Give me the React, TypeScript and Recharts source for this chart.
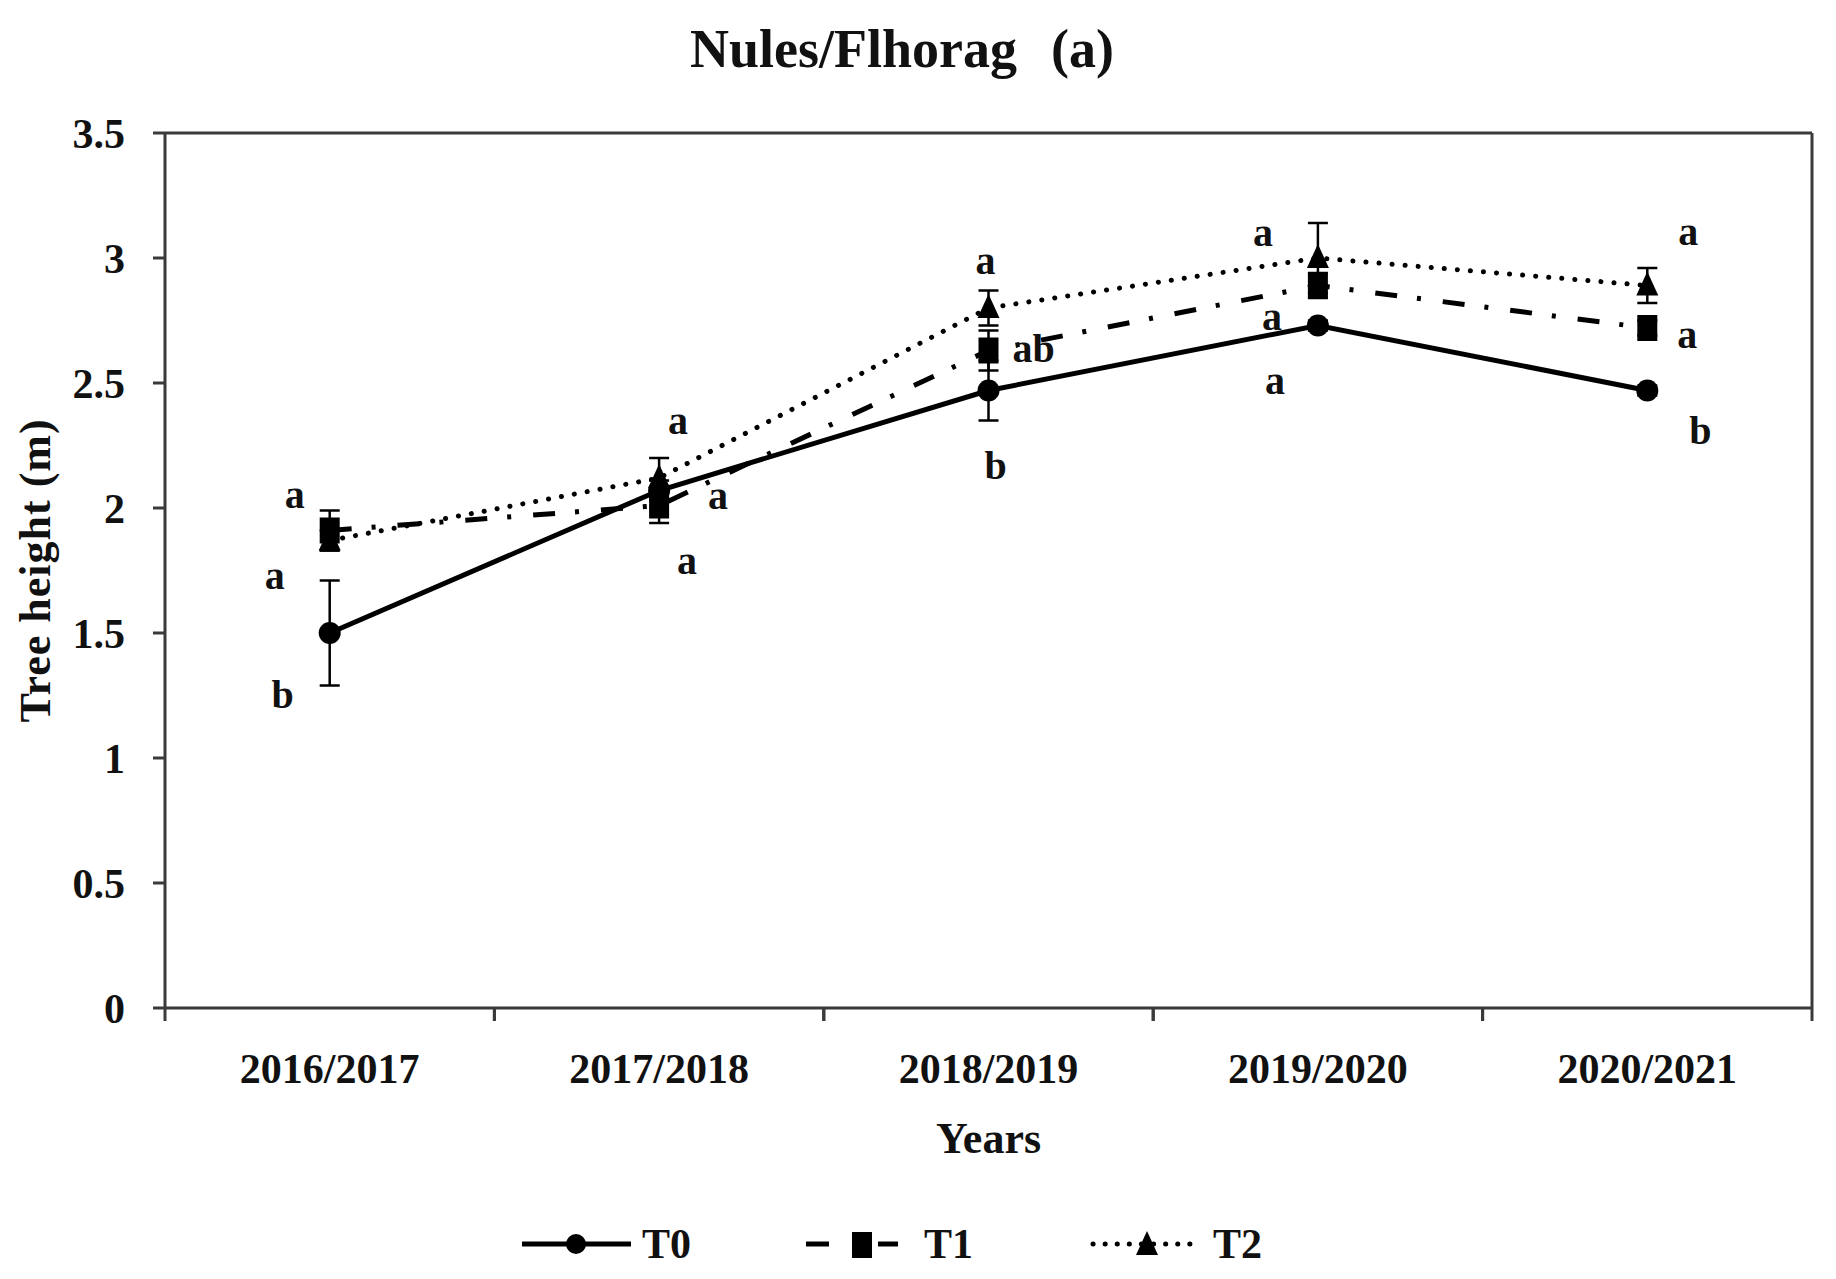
import React from 'react';
import {
  LineChart,
  Line,
  XAxis,
  YAxis,
  ErrorBar,
  LabelList,
  Legend,
  Label
} from 'recharts';

const years = ['2016/2017', '2017/2018', '2018/2019', '2019/2020', '2020/2021'];

// mean tree height (m) per treatment
const t0 = [1.5, 2.07, 2.47, 2.73, 2.47];
const t1 = [1.91, 2.01, 2.63, 2.89, 2.72];
const t2 = [1.87, 2.12, 2.8, 3.0, 2.89];

// standard errors
const t0Err = [0.21, 0.04, 0.12, 0.02, 0.02];
const t1Err = [0.08, 0.07, 0.08, 0.05, 0.03];
const t2Err = [0.04, 0.08, 0.07, 0.14, 0.07];

// significance letters
const t0Sig = ['b', 'a', 'b', 'a', 'b'];
const t1Sig = ['a', 'a', 'ab', 'a', 'a'];
const t2Sig = ['a', 'a', 'a', 'a', 'a'];

const yTicks = [0, 0.5, 1, 1.5, 2, 2.5, 3, 3.5];

const data = years.map((year, i) => ({
  year,
  t0: t0[i],
  t1: t1[i],
  t2: t2[i],
  t0Err: t0Err[i],
  t1Err: t1Err[i],
  t2Err: t2Err[i],
  t0Sig: t0Sig[i],
  t1Sig: t1Sig[i],
  t2Sig: t2Sig[i]
}));

// where each letter sits relative to its point (layout only)
const t0LabelPos = [[-47, 64], [28, 72], [7, 77], [-43, 57], [53, 42]];
const t1LabelPos = [[-55, 47], [59, -8], [45, 0], [-46, 33], [40, 9]];
const t2LabelPos = [[-35, -44], [19, -55], [-3, -45], [-55, -23], [41, -52]];

const W = 1820;
const H = 1265;
const margin = { top: 124, right: 15, bottom: 5, left: 57 };
const Y_AXIS_W = 100;
const RIGHT_AXIS_W = 1;
const LEGEND_H = 50;
const PLOT_LEFT = margin.left + Y_AXIS_W;
const PLOT_RIGHT = W - margin.right - RIGHT_AXIS_W;
const BAND = (PLOT_RIGHT - PLOT_LEFT) / years.length;

const FONT = '"Liberation Serif", "DejaVu Serif", serif';
const AXIS = '#3a3a3a';
const INK = '#000';

function YearTick({ x, y, payload }: any) {
  return (
    <g>
      <line x1={x - BAND / 2} y1={y} x2={x - BAND / 2} y2={y + 13} stroke={AXIS} strokeWidth={3} />
      <line x1={x + BAND / 2} y1={y} x2={x + BAND / 2} y2={y + 13} stroke={AXIS} strokeWidth={3} />
      <text
        x={x}
        y={y + 75}
        textAnchor="middle"
        fontSize={42}
        fontWeight="bold"
        fontFamily={FONT}
        fill="#111"
      >
        {payload.value}
      </text>
    </g>
  );
}

const circleDot = (p: any) => (
  <circle key={`c-${p.index}`} cx={p.cx} cy={p.cy} r={11} fill={INK} />
);
const squareDot = (p: any) => (
  <rect key={`s-${p.index}`} x={p.cx - 10} y={p.cy - 13} width={20} height={26} fill={INK} />
);
const triangleDot = (p: any) => (
  <path
    key={`t-${p.index}`}
    d={`M${p.cx},${p.cy - 14} L${p.cx + 11},${p.cy + 10} L${p.cx - 11},${p.cy + 10} Z`}
    fill={INK}
  />
);

const sigLabel = (pos: number[][], id: string) => (p: any) => {
  const [dx, dy] = pos[p.index] || [0, 0];
  return (
    <text
      key={`${id}-${p.index}`}
      x={p.x + dx}
      y={p.y + dy + 11}
      textAnchor="middle"
      fontSize={40}
      fontWeight="bold"
      fontFamily={FONT}
      fill="#111"
    >
      {p.value}
    </text>
  );
};

const legendText = { fontSize: 42, fontWeight: 'bold' as const, fontFamily: FONT, fill: '#111' };

const LegendContent = () => (
  <svg width={W} height={LEGEND_H} style={{ display: 'block', overflow: 'visible' }}>
    <line x1={514} y1={26} x2={623} y2={26} stroke={INK} strokeWidth={5} />
    <circle cx={568} cy={26} r={10} fill={INK} />
    <text x={634} y={40} {...legendText}>T0</text>

    <line x1={798} y1={26} x2={821} y2={26} stroke={INK} strokeWidth={5} />
    <rect x={844} y={14} width={20} height={26} fill={INK} />
    <line x1={870} y1={26} x2={890} y2={26} stroke={INK} strokeWidth={5} />
    <text x={916} y={40} {...legendText}>T1</text>

    <line
      x1={1085}
      y1={26}
      x2={1191}
      y2={26}
      stroke={INK}
      strokeWidth={5}
      strokeDasharray="0.1 12"
      strokeLinecap="round"
    />
    <path d="M1139,13 L1150,37 L1128,37 Z" fill={INK} />
    <text x={1205} y={40} {...legendText}>T2</text>
  </svg>
);

export default function App() {
  return (
    <div style={{ position: 'relative', width: W, height: H, background: '#fff' }}>
      <LineChart width={W} height={H} data={data} margin={margin}>
        <XAxis
          dataKey="year"
          height={H - margin.top - margin.bottom - LEGEND_H - 1 - 875}
          padding={{ left: BAND / 2, right: BAND / 2 }}
          axisLine={{ stroke: AXIS, strokeWidth: 3 }}
          tickLine={false}
          tickSize={0}
          tickMargin={0}
          tick={<YearTick />}
          interval={0}
        >
          <Label
            content={({ viewBox }: any) => (
              <text
                x={viewBox.x + viewBox.width / 2}
                y={viewBox.y + 145}
                textAnchor="middle"
                fontSize={44}
                fontWeight="bold"
                fontFamily={FONT}
                fill="#111"
              >
                Years
              </text>
            )}
          />
        </XAxis>
        <XAxis
          xAxisId="top"
          dataKey="year"
          orientation="top"
          height={1}
          padding={{ left: BAND / 2, right: BAND / 2 }}
          tick={false}
          tickLine={false}
          axisLine={{ stroke: AXIS, strokeWidth: 3 }}
        />
        <YAxis
          width={Y_AXIS_W}
          domain={[0, 3.5]}
          ticks={yTicks}
          interval={0}
          axisLine={{ stroke: AXIS, strokeWidth: 3 }}
          tickLine={{ stroke: AXIS, strokeWidth: 3 }}
          tickSize={12}
          tickMargin={28}
          tick={{ fontSize: 42, fontWeight: 'bold', fontFamily: FONT, fill: '#111' }}
        >
          <Label
            content={({ viewBox }: any) => (
              <text
                transform={`translate(${margin.left - 30}, ${viewBox.y + viewBox.height / 2}) rotate(-90)`}
                textAnchor="middle"
                dominantBaseline="central"
                fontSize={44}
                fontWeight="bold"
                fontFamily={FONT}
                letterSpacing={1}
                fill="#111"
              >
                Tree height (m)
              </text>
            )}
          />
        </YAxis>
        <YAxis
          yAxisId="right"
          orientation="right"
          width={RIGHT_AXIS_W}
          domain={[0, 3.5]}
          tick={false}
          tickLine={false}
          axisLine={{ stroke: AXIS, strokeWidth: 3 }}
        />
        <Legend
          verticalAlign="bottom"
          height={LEGEND_H}
          content={<LegendContent />}
          wrapperStyle={{ left: 0, width: W }}
        />

        <Line
          dataKey="t2"
          stroke={INK}
          strokeWidth={5}
          strokeDasharray="0.1 13"
          strokeLinecap="round"
          dot={triangleDot}
          activeDot={false}
          isAnimationActive={false}
        >
          <ErrorBar dataKey="t2Err" width={10} stroke={INK} strokeWidth={2.5} />
          <LabelList dataKey="t2Sig" content={sigLabel(t2LabelPos, 't2')} />
        </Line>
        <Line
          dataKey="t1"
          stroke={INK}
          strokeWidth={5}
          strokeDasharray="22 20 4 22"
          dot={squareDot}
          activeDot={false}
          isAnimationActive={false}
        >
          <ErrorBar dataKey="t1Err" width={10} stroke={INK} strokeWidth={2.5} />
          <LabelList dataKey="t1Sig" content={sigLabel(t1LabelPos, 't1')} />
        </Line>
        <Line
          dataKey="t0"
          stroke={INK}
          strokeWidth={5}
          dot={circleDot}
          activeDot={false}
          isAnimationActive={false}
        >
          <ErrorBar dataKey="t0Err" width={10} stroke={INK} strokeWidth={2.5} />
          <LabelList dataKey="t0Sig" content={sigLabel(t0LabelPos, 't0')} />
        </Line>
      </LineChart>
      <svg
        width={W}
        height={90}
        style={{ position: 'absolute', left: 0, top: 0, pointerEvents: 'none' }}
      >
        <text x={894} y={59} textAnchor="middle" fontSize={54} fontWeight="bold" fontFamily={FONT} fill="#111">
          <tspan>Nules/Flhorag</tspan>
          <tspan dx={34}>(a)</tspan>
        </text>
      </svg>
    </div>
  );
}
